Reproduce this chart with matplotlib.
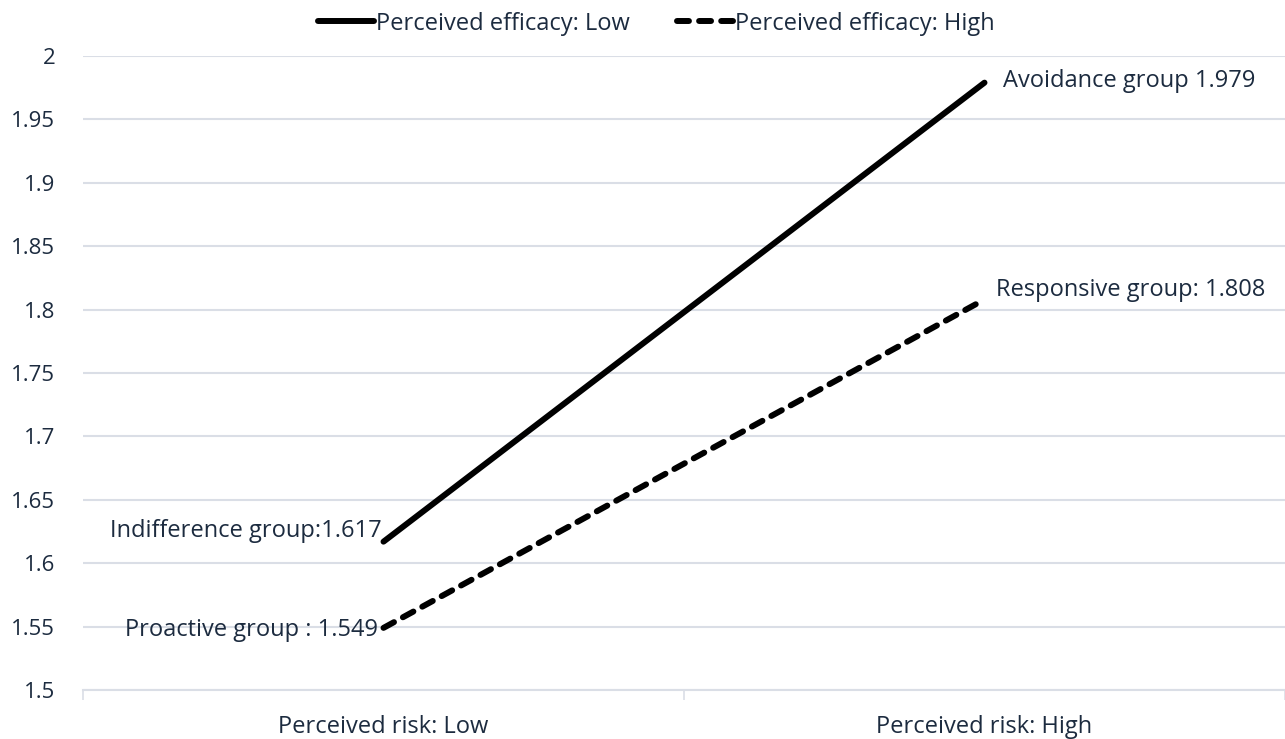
import matplotlib
matplotlib.use("Agg")
import matplotlib.pyplot as plt
from matplotlib.ticker import FixedLocator

plt.rcParams['font.family'] = ['Open Sans', 'DejaVu Sans']

categories = ["Perceived risk: Low", "Perceived risk: High"]
series_names = ["Perceived efficacy: Low", "Perceived efficacy: High"]
low_efficacy = [1.617, 1.979]
high_efficacy = [1.549, 1.808]
point_labels_low = ["Indifference group:1.617", "Avoidance group 1.979"]
point_labels_high = ["Proactive group : 1.549", "Responsive group: 1.808"]
y_ticks = [1.5, 1.55, 1.6, 1.65, 1.7, 1.75, 1.8, 1.85, 1.9, 1.95, 2.0]
y_tick_labels = ["1.5", "1.55", "1.6", "1.65", "1.7", "1.75", "1.8", "1.85", "1.9", "1.95", "2"]

text_color = "#1c2b3f"
grid_color = "#dadee6"
fs = 17

fig = plt.figure(figsize=(12.85, 7.39), dpi=100)
ax = fig.add_axes([0.0646, 0.0663, 0.9354, 0.8579])

x = list(range(len(categories)))
l1, = ax.plot(x, low_efficacy, color="black", lw=4.3, solid_capstyle="round",
              label=series_names[0])
l2, = ax.plot(x, high_efficacy, color="black", lw=4.3, linestyle=(0, (2.0, 1.7)),
              dash_capstyle="round", label=series_names[1])

ax.set_xlim(-0.5, 1.5)
ax.set_ylim(1.5, 2.0)
ax.set_yticks(y_ticks)
ax.set_yticklabels(y_tick_labels)
ax.set_xticks(x)
ax.set_xticklabels(categories)
ax.xaxis.set_minor_locator(FixedLocator([-0.5, 0.5, 1.5]))
ax.tick_params(axis="x", which="major", length=0, pad=18, labelsize=fs, labelcolor=text_color)
ax.tick_params(axis="x", which="minor", length=7, width=1.2, color=grid_color)
ax.tick_params(axis="y", length=0, pad=20, labelsize=16, labelcolor=text_color)

ax.grid(axis="y", color=grid_color, lw=1.5)
ax.set_axisbelow(True)
for side in ["top", "right", "left"]:
    ax.spines[side].set_visible(False)
ax.spines["bottom"].set_color(grid_color)
ax.spines["bottom"].set_linewidth(1.5)

# value callouts next to each end point
offsets_low = [((-1, 8), "right"), ((13, 1.5), "left")]
offsets_high = [((-4, -1.5), "right"), ((8, 7), "left")]
for xi, (v, lab, (off, ha)) in enumerate(zip(low_efficacy, point_labels_low, offsets_low)):
    ax.annotate(lab, (xi, v), xytext=off, textcoords="offset points", ha=ha, va="center",
                fontsize=fs, color=text_color)
for xi, (v, lab, (off, ha)) in enumerate(zip(high_efficacy, point_labels_high, offsets_high)):
    ax.annotate(lab, (xi, v), xytext=off, textcoords="offset points", ha=ha, va="center",
                fontsize=fs, color=text_color)

fig.legend(handles=[l1, l2], loc="center", bbox_to_anchor=(0.511, 0.968), ncol=2,
           frameon=False, fontsize=fs, handlelength=2.35, handletextpad=0.1,
           columnspacing=2.0, labelcolor=text_color)

fig.savefig("out.png", dpi=100)
